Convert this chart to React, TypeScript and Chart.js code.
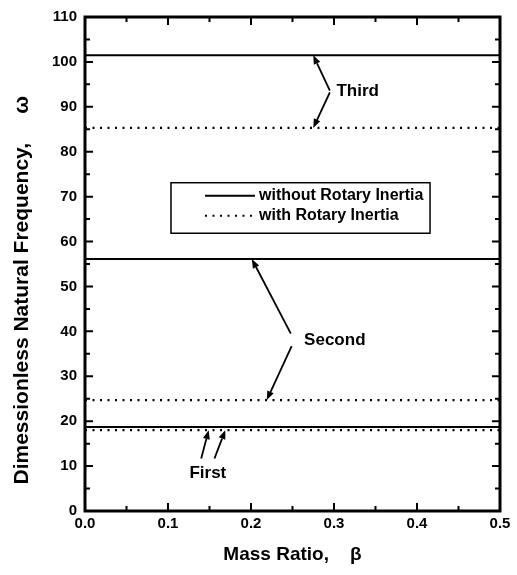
import React, { useEffect, useRef } from "react";
import { Chart, registerables } from "chart.js";

Chart.register(...registerables);

// ---- data ----
const massRatio = [0, 0.5];
const modeNames = ["First", "Second", "Third"];
const withoutRotaryInertia = [18.7, 56.1, 101.5];
const withRotaryInertia = [18.0, 24.7, 85.3];
const seriesLabels = ["without Rotary Inertia", "with Rotary Inertia"];
const xTickValues = [0, 0.1, 0.2, 0.3, 0.4, 0.5];
const yTickValues = [0, 10, 20, 30, 40, 50, 60, 70, 80, 90, 100, 110];

// ---- annotation placement (data coordinates) ----
type Pt = [number, number];
const annotations: { text: string; at: Pt; align: CanvasTextAlign; arrows: [Pt, Pt][] }[] = [
  {
    text: modeNames[2],
    at: [0.303, 93.4],
    align: "left",
    arrows: [
      [[0.295, 93.6], [0.275, withoutRotaryInertia[2]]],
      [[0.295, 93.2], [0.275, withRotaryInertia[2]]],
    ],
  },
  {
    text: modeNames[1],
    at: [0.264, 38.0],
    align: "left",
    arrows: [
      [[0.248, 39.5], [0.201, withoutRotaryInertia[1]]],
      [[0.249, 36.7], [0.219, withRotaryInertia[1]]],
    ],
  },
  {
    text: modeNames[0],
    at: [0.148, 8.4],
    align: "center",
    arrows: [
      [[0.140, 11.7], [0.149, withRotaryInertia[0]]],
      [[0.156, 11.7], [0.169, withRotaryInertia[0]]],
    ],
  },
];
const legendBox = { x0: 0.1036, x1: 0.4157, y0: 73.1, y1: 61.85 };

const FONT = "'Liberation Sans', Arial, Helvetica, sans-serif";
const DOT_DASH = [2, 5.5];

function drawArrow(ctx: CanvasRenderingContext2D, x0: number, y0: number, x1: number, y1: number) {
  const ang = Math.atan2(y1 - y0, x1 - x0);
  const len = 9;
  const hw = 3.5;
  const bx = x1 - len * Math.cos(ang);
  const by = y1 - len * Math.sin(ang);
  ctx.beginPath();
  ctx.moveTo(x0, y0);
  ctx.lineTo(bx, by);
  ctx.stroke();
  ctx.beginPath();
  ctx.moveTo(x1, y1);
  ctx.lineTo(bx + hw * Math.sin(ang), by - hw * Math.cos(ang));
  ctx.lineTo(bx - hw * Math.sin(ang), by + hw * Math.cos(ang));
  ctx.closePath();
  ctx.fill();
}

const overlayPlugin = {
  id: "overlay",
  afterDatasetsDraw(chart: any) {
    const { ctx, chartArea: a, scales } = chart;
    const xs = scales.x;
    const ys = scales.y;
    ctx.save();
    ctx.strokeStyle = "#000";
    ctx.fillStyle = "#000";

    // frame
    ctx.lineWidth = 3;
    ctx.setLineDash([]);
    ctx.strokeRect(a.left, a.top, a.right - a.left, a.bottom - a.top);

    // inward ticks on all four sides
    ctx.lineWidth = 2;
    const major = 8;
    const minor = 5;
    const xStep = xTickValues[1] - xTickValues[0];
    xTickValues.forEach((v, i) => {
      const list: [number, number][] = [[v, major]];
      if (i < xTickValues.length - 1) list.push([v + xStep / 2, minor]);
      list.forEach(([val, l]) => {
        const px = xs.getPixelForValue(val);
        ctx.beginPath();
        ctx.moveTo(px, a.bottom);
        ctx.lineTo(px, a.bottom - l);
        ctx.moveTo(px, a.top);
        ctx.lineTo(px, a.top + l);
        ctx.stroke();
      });
    });
    const yStep = yTickValues[1] - yTickValues[0];
    yTickValues.forEach((v, i) => {
      const list: [number, number][] = [[v, major]];
      if (i < yTickValues.length - 1) list.push([v + yStep / 2, minor]);
      list.forEach(([val, l]) => {
        const py = ys.getPixelForValue(val);
        ctx.beginPath();
        ctx.moveTo(a.left, py);
        ctx.lineTo(a.left + l, py);
        ctx.moveTo(a.right, py);
        ctx.lineTo(a.right - l, py);
        ctx.stroke();
      });
    });

    // legend
    const lx0 = xs.getPixelForValue(legendBox.x0);
    const lx1 = xs.getPixelForValue(legendBox.x1);
    const ly0 = ys.getPixelForValue(legendBox.y0);
    const ly1 = ys.getPixelForValue(legendBox.y1);
    ctx.fillStyle = "#fff";
    ctx.fillRect(lx0, ly0, lx1 - lx0, ly1 - ly0);
    ctx.fillStyle = "#000";
    ctx.lineWidth = 1.5;
    ctx.strokeRect(lx0, ly0, lx1 - lx0, ly1 - ly0);
    ctx.font = `bold 16px ${FONT}`;
    ctx.textAlign = "left";
    ctx.textBaseline = "middle";
    const rows = [ly0 + 13, ly0 + 33];
    chart.data.datasets
      .filter((d: any, i: number, arr: any[]) => arr.findIndex((e: any) => e.label === d.label) === i)
      .forEach((d: any, i: number) => {
        const ry = rows[i];
        ctx.lineWidth = 2;
        ctx.setLineDash(d.borderDash || []);
        ctx.beginPath();
        ctx.moveTo(lx0 + 34, ry);
        ctx.lineTo(lx0 + 84, ry);
        ctx.stroke();
        ctx.setLineDash([]);
        ctx.fillText(d.label, lx0 + 88, ry);
      });

    // annotations
    ctx.setLineDash([]);
    ctx.lineWidth = 1.8;
    ctx.font = `bold 17px ${FONT}`;
    annotations.forEach((an) => {
      ctx.textAlign = an.align;
      ctx.fillText(an.text, xs.getPixelForValue(an.at[0]), ys.getPixelForValue(an.at[1]));
      an.arrows.forEach(([s, t]) => {
        drawArrow(
          ctx,
          xs.getPixelForValue(s[0]),
          ys.getPixelForValue(s[1]),
          xs.getPixelForValue(t[0]),
          ys.getPixelForValue(t[1])
        );
      });
    });
    ctx.restore();
  },
};

export default function App() {
  const ref = useRef<HTMLCanvasElement | null>(null);

  useEffect(() => {
    if (!ref.current) return;
    const datasets: any[] = [];
    withoutRotaryInertia.forEach((v) => {
      datasets.push({
        label: seriesLabels[0],
        data: massRatio.map((b) => ({ x: b, y: v })),
        borderColor: "#000",
        borderWidth: 2,
        pointRadius: 0,
        fill: false,
      });
    });
    withRotaryInertia.forEach((v) => {
      datasets.push({
        label: seriesLabels[1],
        data: massRatio.map((b) => ({ x: b, y: v })),
        borderColor: "#000",
        borderWidth: 2.2,
        borderDash: DOT_DASH,
        borderCapStyle: "butt",
        pointRadius: 0,
        fill: false,
      });
    });

    const tickFont = { family: FONT, size: 15, weight: "bold" as const };
    const chart = new Chart(ref.current, {
      type: "line",
      data: { datasets },
      options: {
        animation: false,
        responsive: false,
        maintainAspectRatio: false,
        layout: { padding: { top: 13, right: 17, bottom: 0, left: 0 } },
        plugins: { legend: { display: false }, tooltip: { enabled: false } },
        scales: {
          x: {
            type: "linear",
            min: 0,
            max: 0.5,
            afterBuildTicks: (s: any) => {
              s.ticks = xTickValues.map((v) => ({ value: v }));
            },
            afterFit: (s: any) => {
              s.height = 64;
            },
            grid: { display: false, drawTicks: false },
            border: { display: false },
            ticks: {
              color: "#000",
              font: tickFont,
              padding: 4,
              maxRotation: 0,
              autoSkip: false,
              callback: (v: any) => Number(v).toFixed(1),
            },
            title: {
              display: true,
              text: "Mass Ratio,    β",
              color: "#000",
              font: { family: FONT, size: 19, weight: "bold" },
              padding: { top: 0, bottom: 8.5 },
            },
          },
          y: {
            type: "linear",
            min: 0,
            max: 110,
            afterBuildTicks: (s: any) => {
              s.ticks = yTickValues.map((v) => ({ value: v }));
            },
            afterFit: (s: any) => {
              s.width = 85;
            },
            grid: { display: false, drawTicks: false },
            border: { display: false },
            ticks: {
              color: "#000",
              font: tickFont,
              padding: 8,
              autoSkip: false,
              callback: (v: any) => String(v),
            },
            title: {
              display: true,
              text: "Dimessionless Natural Frequency,     ω         ",
              color: "#000",
              font: { family: FONT, size: 21, weight: "bold" },
              padding: { top: 9.5, bottom: 0 },
            },
          },
        },
      },
      plugins: [overlayPlugin],
    });
    return () => chart.destroy();
  }, []);

  return (
    <div style={{ position: "absolute", left: 0, top: 0, width: 517, height: 575, background: "#fff" }}>
      <canvas ref={ref} width={517} height={575} style={{ display: "block" }} />
    </div>
  );
}
